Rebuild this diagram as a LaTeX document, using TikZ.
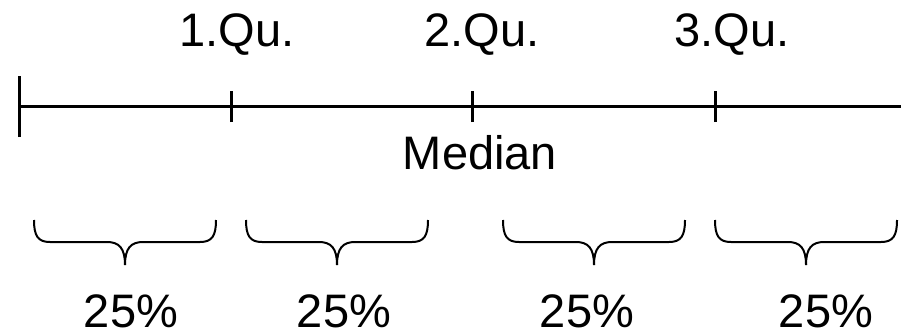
\documentclass[tikz,border=0pt]{standalone}
\usepackage{fontspec}
\setmainfont{Liberation Sans}
\begin{document}
\begin{tikzpicture}[x=1pt,y=-1pt,
  lbl/.style={inner sep=0pt,anchor=base,font=\fontsize{47}{50}\selectfont},
  axis/.style={line width=3pt},
  brace/.style={line width=2pt,line join=round}]
\useasboundingbox (0,0) rectangle (901,334);
% axis
\coordinate (L) at (19,107);
\coordinate (R) at (901,107);
\coordinate (q1) at (231,107);
\coordinate (q2) at (472,107);
\coordinate (q3) at (715,107);
\draw[axis] (L) -- (R);
\draw[axis] ([yshift=-30pt]L) -- ([yshift=31pt]L);
\foreach \q in {q1,q2,q3}{
  \draw[axis] ([yshift=-15pt]\q) -- ([yshift=16pt]\q);
}
% labels
\node[lbl] (t1) at (237,47) {1.Qu.};
\node[lbl] (t2) at (482,47) {2.Qu.};
\node[lbl] (t3) at (732,47) {3.Qu.};
\node[lbl] (med) at (480,169) {Median};
% braces
\foreach \a/\m/\b/\n in {34/125/216/b1,246/337/428/b2,503/594/685/b3,715/806/897/b4}{
  \draw[brace] (\a,220) .. controls (\a,236) and (\a+4,242) .. (\a+16,242)
     -- (\m-18,242) .. controls (\m-6,242) and (\m,248) .. (\m,265);
  \draw[brace] (\b,220) .. controls (\b,236) and (\b-4,242) .. (\b-16,242)
     -- (\m+18,242) .. controls (\m+6,242) and (\m,248) .. (\m,265);
}
\node[lbl] (p1) at (131,327) {25\%};
\node[lbl] (p2) at (344,327) {25\%};
\node[lbl] (p3) at (587,327) {25\%};
\node[lbl] (p4) at (826,327) {25\%};
\end{tikzpicture}
\end{document}
